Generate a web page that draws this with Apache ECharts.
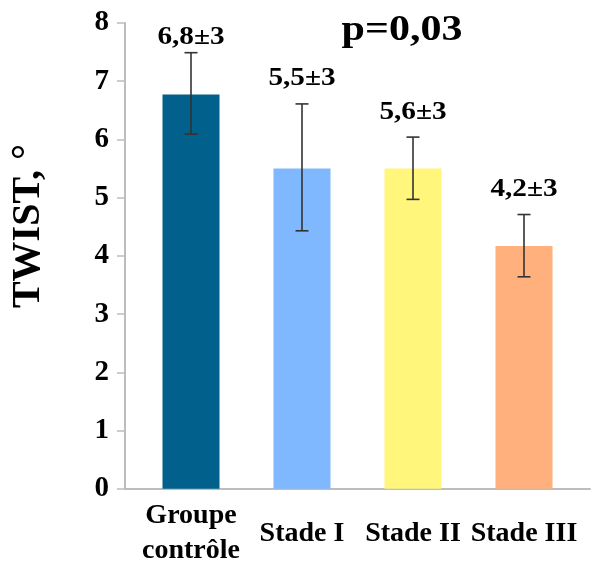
<!DOCTYPE html>
<html>
<head>
<meta charset="utf-8">
<script src="https://cdn.jsdelivr.net/npm/echarts@6/dist/echarts.min.js"></script>
<style>html,body{margin:0;padding:0;background:#fff}#c{width:601px;height:566px}</style>
</head>
<body>
<div id="c"></div>
<script>
const categories = ['Groupe\ncontrôle', 'Stade I', 'Stade II', 'Stade III'];
const values = [6.77, 5.5, 5.5, 4.17];
const errLow = [6.09, 4.43, 4.97, 3.64];
const errHigh = [7.49, 6.61, 6.04, 4.71];
const valueLabels = ['6,8±3', '5,5±3', '5,6±3', '4,2±3'];
const colors = ['#02608C', '#7FB8FE', '#FFF67B', '#FFB07C'];
const yTicks = [0, 1, 2, 3, 4, 5, 6, 7, 8];
const yName = 'TWIST, °';
const pText = 'p=0,03';

const FONT = '"Liberation Serif", "Times New Roman", serif';
const chart = echarts.init(document.getElementById('c'), null, {renderer: 'canvas'});

const option = {
  backgroundColor: '#fff',
  animation: false,
  grid: [
    {left: 125, right: 11, top: 23, bottom: 77.3, containLabel: false, outerBoundsMode: 'none'},
    {left: 135.5, right: 21.5, top: 23, bottom: 77.3, containLabel: false, outerBoundsMode: 'none'}
  ],
  xAxis: [
    {type: 'category', gridIndex: 0, data: [''], axisLine: {show: true, lineStyle: {color: '#bdbdbd', width: 2}},
     axisTick: {show: false}, axisLabel: {show: false}, splitLine: {show: false}},
    {type: 'category', gridIndex: 1, data: categories,
     axisLine: {show: false}, axisTick: {show: false}, splitLine: {show: false},
     axisLabel: {show: true, interval: 0, margin: 45, color: '#000', fontFamily: FONT, fontWeight: 'bold',
                 fontSize: 28, lineHeight: 35, verticalAlign: 'middle', align: 'center'}}
  ],
  yAxis: [
    {type: 'value', gridIndex: 0, min: yTicks[0], max: yTicks[yTicks.length - 1], interval: 1,
     axisLine: {show: true, lineStyle: {color: '#bdbdbd', width: 2}},
     axisTick: {show: true, inside: false, length: 8, lineStyle: {color: '#bdbdbd', width: 1.5}},
     splitLine: {show: false},
     axisLabel: {show: true, margin: 16, color: '#000', fontFamily: FONT, fontWeight: 'bold', fontSize: 29}},
    {type: 'value', gridIndex: 1, min: yTicks[0], max: yTicks[yTicks.length - 1], interval: 1, show: false,
     splitLine: {show: false}}
  ],
  series: [
    {
      type: 'bar', xAxisIndex: 1, yAxisIndex: 1, barWidth: 57,
      data: values.map((v, i) => ({value: v, itemStyle: {color: colors[i]}}))
    },
    {
      type: 'custom', xAxisIndex: 1, yAxisIndex: 1, z: 10,
      data: values.map((v, i) => [i, errLow[i], errHigh[i]]),
      renderItem: function (params, api) {
        const i = api.value(0);
        const hi = api.coord([i, api.value(2)]);
        const lo = api.coord([i, api.value(1)]);
        const half = 6.5;
        const st = {stroke: '#333', lineWidth: 1.6};
        const labelY = Math.max(hi[1] - 25, params.coordSys.y + 15);
        return {
          type: 'group',
          children: [
            {type: 'line', shape: {x1: hi[0], y1: hi[1], x2: lo[0], y2: lo[1]}, style: st},
            {type: 'line', shape: {x1: hi[0] - half, y1: hi[1], x2: hi[0] + half, y2: hi[1]}, style: st},
            {type: 'line', shape: {x1: lo[0] - half, y1: lo[1], x2: lo[0] + half, y2: lo[1]}, style: st},
            {type: 'text', x: hi[0], y: labelY, scaleX: 1.17, scaleY: 1,
             style: {text: valueLabels[params.dataIndex], fill: '#000', font: 'bold 25px ' + FONT,
                     align: 'center', verticalAlign: 'middle'}}
          ]
        };
      }
    }
  ],
  graphic: [
    {type: 'text', x: 28.5, y: 226, rotation: Math.PI / 2,
     style: {text: yName, fill: '#000', font: 'bold 40px ' + FONT, align: 'center', verticalAlign: 'middle'}},
    {type: 'text', x: 402, y: 31, scaleX: 1.2, scaleY: 1,
     style: {text: pText, fill: '#000', font: 'bold 35px ' + FONT, align: 'center', verticalAlign: 'middle'}}
  ]
};
chart.setOption(option);
</script>
</body>
</html>
